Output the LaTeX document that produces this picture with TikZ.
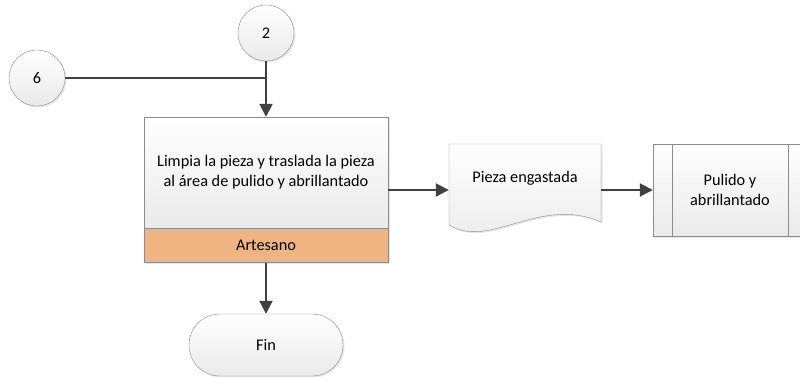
\documentclass[tikz,border=0pt]{standalone}
\usepackage{fontspec}
\setmainfont{Carlito}
\usetikzlibrary{arrows.meta, positioning, shapes.misc, shadows, calc}
\definecolor{LGray}{HTML}{EAEAEA}
\definecolor{BGray}{HTML}{8C8C8C}
\definecolor{DGray}{HTML}{404040}
\definecolor{Worker}{RGB}{240,180,130}

\tikzset{
  shade box/.style={draw=BGray, top color=white, bottom color=LGray,
    drop shadow={shadow xshift=1.5pt, shadow yshift=-1.5pt, opacity=.2}},
  procbox/.style={shade box, rectangle, minimum width=244pt, inner sep=0pt, align=center},
  connector/.style={shade box, circle, minimum size=56pt, inner sep=0pt},
  flow/.style={DGray, line width=2pt, -{Triangle[length=13pt,width=13pt]}},
  plain flow/.style={DGray, line width=2pt}
}

\begin{document}
\begin{tikzpicture}[x=1pt, y=-1pt, font=\fontsize{16.3}{20}\selectfont]
\useasboundingbox (0,0) rectangle (800,377);

\node[connector] (c-two) at (266,33) {2};
\node[connector] (c-six) at (37,78) {6};

\node[procbox, minimum height=111pt] (limpia) at (266,172.5)
  {Limpia la pieza y traslada la pieza\\al área de pulido y abrillantado};
\node[procbox, minimum height=34pt, fill=Worker, top color=Worker, bottom color=Worker,
  below=0pt of limpia] (artesano) {Artesano};

\node[shade box, rounded rectangle, minimum width=154pt, minimum height=62pt,
  inner sep=0pt] (fin) at (266,345) {Fin};

% documento
\node[minimum width=152pt, minimum height=92pt, inner sep=0pt] (pieza) at (525,190) {};
\begin{scope}[shift={(pieza.center)}]
  \draw[shade box] (-76,-46) -- (76,-46) -- (76,32)
    .. controls (15,5) and (-35,60) .. (-76,35) -- cycle;
\end{scope}
\node (pieza-txt) at ($(pieza.center)+(0,-12)$) {Pieza engastada};

% proceso predefinido
\node[shade box, minimum width=154pt, minimum height=92pt, inner sep=0pt, align=center]
  (pulido) at (730,190) {Pulido y\\abrillantado};
\draw[BGray] ([xshift=19pt]pulido.north west) -- ([xshift=19pt]pulido.south west);
\draw[BGray] ([xshift=-19pt]pulido.north east) -- ([xshift=-19pt]pulido.south east);

\draw[plain flow] (c-six.east) -- (c-six.east -| c-two.south);
\draw[flow] (c-two.south) -- (limpia.north);
\draw[flow] (limpia.east |- pieza.west) -- (pieza.west);
\draw[flow] (pieza.east) -- (pulido.west);
\draw[flow] (artesano.south) -- (fin.north);
\end{tikzpicture}
\end{document}
